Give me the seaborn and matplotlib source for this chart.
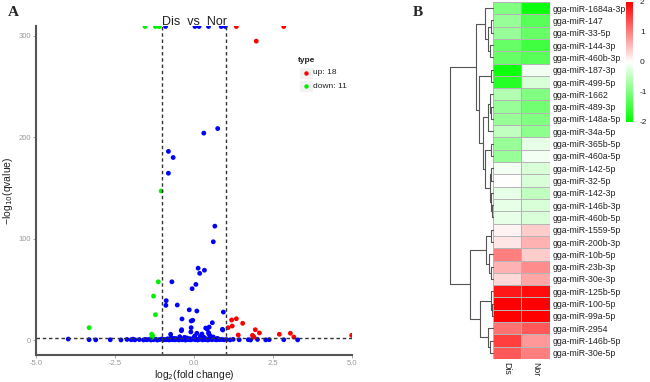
import numpy as np
import pandas as pd
import matplotlib
matplotlib.use("Agg")
import matplotlib.pyplot as plt
import seaborn as sns
from matplotlib.colors import LinearSegmentedColormap

# ---------------- Volcano data (panel A) ----------------
up_x = [1.34, 2.84, 1.97, 1.19, 1.34, 1.08, 1.21, 1.54, 1.40, 1.94, 2.07, 1.85, 1.88, 1.90, 2.70, 3.05, 3.16, 4.99]
up_y = [309, 309, 294.6, 20.0, 21.2, 12.4, 14.0, 16.7, 5.2, 10.4, 7.2, 4.9, 3.5, 3.0, 5.9, 6.9, 3.2, 4.9]

down_x = [-1.55, -1.22, -1.10, -1.04, -1.13, -1.28, -1.22, -3.32, -1.34, -1.31, -1.33]
down_y = [309, 309, 309, 147.0, 57.6, 43.5, 25.2, 12.4, 6.0, 4.5, 3.0]

ns_x = [-0.90, 0.03, 0.16, 0.46, 0.86, 0.99,
        0.31, 0.75, -0.81, -0.66, -0.81, 0.66, 0.61, 0.13, 0.18, 0.33, -0.70, 0.06, -0.06,
        -0.88, -0.89, -0.53, -0.15, 0.09, 0.93, -0.38, -0.09, -0.04, 0.58, 0.48, 0.37, 0.42,
        -0.09, -0.39, -0.40, 0.46, 0.91, -0.74, -0.10, 0.09, 0.25, 0.90, 0.47, 0.51, 0.61,
        -3.98, -3.32, -3.11, -2.65, -2.31, -2.12, -1.99, -1.93, -1.87, -1.73, -1.60, -1.54,
        -1.49, -1.41, -1.36, -1.29, -1.21, -1.16, -1.09, -1.02, -0.97, -0.93, -0.88, -0.83,
        -0.79, -0.73, -0.69, -0.64, -0.61, -0.55, -0.51, -0.47, -0.41, -0.37, -0.33, -0.27,
        -0.24, -0.19, -0.13, -0.11, -0.05, -0.01, 0.04, 0.08, 0.12, 0.17, 0.21, 0.27, 0.29,
        0.35, 0.39, 0.44, 0.49, 0.53, 0.57, 0.63, 0.68, 0.71, 0.77, 0.81, 0.88, 0.95,
        1.03, 1.14, 1.24, 1.43, 1.72, 1.79, 2.01, 2.27, 2.38, 2.84, 3.28,
        -0.72, -0.45, -0.22, 0.02, 0.31, 0.55, 0.74, -0.58, -0.30, 0.20]
ns_y = [309, 309, 309, 309, 309, 309,
        204.0, 208.5, 186.0, 180.0, 164.5, 112.4, 97.0, 71.0, 65.9, 69.0, 57.6, 55.0, 50.8,
        39.0, 34.4, 34.7, 30.0, 28.8, 27.8, 21.0, 19.0, 19.7, 17.3, 13.0, 12.0, 11.0,
        12.4, 10.4, 9.4, 7.5, 10.1, 5.9, 8.2, 6.9, 6.2, 10.8, 6.2, 4.5, 3.2,
        1.2, 0.6, 0.4, 0.5, 0.3, 0.8, 0.5, 1.1, 0.4, 0.7, 0.3, 0.9,
        0.5, 1.0, 0.3, 0.6, 0.9, 0.2, 0.7, 1.3, 0.4, 0.8, 0.5, 1.5,
        0.3, 0.9, 0.6, 1.8, 0.4, 1.1, 0.7, 0.3, 1.4, 0.5, 0.8, 0.2,
        1.0, 0.6, 1.6, 0.4, 0.9, 2.4, 0.5, 1.2, 0.3, 0.8, 1.9, 0.4, 1.1,
        0.6, 1.5, 0.3, 0.9, 2.6, 0.5, 1.3, 0.7, 0.4, 1.0, 0.6, 0.8, 0.5,
        0.7, 0.4, 0.9, 0.5, 0.6, 0.3, 0.8, 0.4, 0.6, 0.5, 0.4,
        2.8, 3.5, 2.2, 4.1, 3.0, 2.5, 1.9, 1.7, 2.9, 3.8]

x_ticks = [-5.0, -2.5, 0.0, 2.5, 5.0]
y_ticks = [0, 100, 200, 300]
fc_cut = [-1, 1]
q_cut = 2.0

# ---------------- Heatmap data (panel B) ----------------
mirnas = ["gga-miR-1684a-3p", "gga-miR-147", "gga-miR-33-5p", "gga-miR-144-3p", "gga-miR-460b-3p",
          "gga-miR-187-3p", "gga-miR-499-5p", "gga-miR-1662", "gga-miR-489-3p", "gga-miR-148a-5p",
          "gga-miR-34a-5p", "gga-miR-365b-5p", "gga-miR-460a-5p", "gga-miR-142-5p", "gga-miR-32-5p",
          "gga-miR-142-3p", "gga-miR-146b-3p", "gga-miR-460b-5p", "gga-miR-1559-5p", "gga-miR-200b-3p",
          "gga-miR-10b-5p", "gga-miR-23b-3p", "gga-miR-30e-3p", "gga-miR-125b-5p", "gga-miR-100-5p",
          "gga-miR-99a-5p", "gga-miR-2954", "gga-miR-146b-5p", "gga-miR-30e-5p"]
dis_vals = [-1.0, -0.8, -0.8, -1.2, -1.2, -1.9, -1.7, -0.6, -0.8, -0.8,
            -0.5, -0.8, -0.8, -0.1, 0.0, -0.2, -0.2, -0.2, 0.1, 0.2,
            1.0, 0.6, 0.3, 1.8, 2.0, 2.0, 1.1, 1.5, 1.3]
nor_vals = [-1.9, -1.3, -1.2, -1.5, -1.3, -0.1, -0.3, -1.0, -1.1, -1.0,
            -0.9, -0.2, -0.1, -0.3, -0.3, -0.5, -0.3, -0.3, 0.4, 0.6,
            0.4, 0.9, 0.7, 1.9, 2.0, 2.0, 1.3, 0.8, 1.0]
samples = ["Dis", "Nor"]
cbar_ticks = [-2, -1, 0, 1, 2]

# row dendrogram: [left, right, height]; leaves are row indices
row_tree = [
    [[0, [[1, 2, 0.05], [3, 4, 0.07], 0.12], 0.19],
     [[5, 6, 0.04],
      [[[7, [8, 9, 0.04], 0.07], 10, 0.10],
       [[11, 12, 0.05], [[13, 14, 0.03], [15, [16, 17, 0.02], 0.04], 0.06], 0.17], 0.22], 0.32], 0.39],
    [[[18, 19, 0.05], [20, [21, 22, 0.04], 0.08], 0.16],
     [[23, [24, 25, 0.02], 0.05], [26, [27, 28, 0.06], 0.10], 0.30], 0.53],
    1.0]

# ---------------- Figure ----------------
sns.set_theme(style="white")
plt.rcParams["font.family"] = ["Liberation Sans", "DejaVu Sans"]
plt.rcParams["axes.unicode_minus"] = False
fig = plt.figure(figsize=(6.5, 3.82), dpi=100)

# Panel A
ax = fig.add_axes([36 / 650, 1 - 355 / 382, 316 / 650, 329 / 382])
vdf = pd.concat([
    pd.DataFrame({"x": ns_x, "y": ns_y, "type": "ns"}),
    pd.DataFrame({"x": up_x, "y": up_y, "type": "up"}),
    pd.DataFrame({"x": down_x, "y": down_y, "type": "down"}),
])
sns.scatterplot(data=vdf, x="x", y="y", hue="type",
                palette={"ns": "#0000ff", "up": "#ff0000", "down": "#00ee00"},
                s=12, linewidth=0, legend=False, ax=ax)
for c in fc_cut:
    ax.axvline(c, color="#333333", lw=1.0, ls=(0, (2.5, 2)))
ax.axhline(q_cut, color="#333333", lw=1.0, ls=(0, (2.5, 2)))
ax.set_xlim(-5, 5)
ax.set_ylim(-14.5, 309.5)
ax.set_xticks(x_ticks)
ax.set_xticklabels([f"{t:.1f}" for t in x_ticks])
ax.set_yticks(y_ticks)
ax.tick_params(axis="both", labelsize=5.5, colors="#999999", length=2, width=0.6,
               direction="out", left=True, bottom=True, pad=1.5)
for s in ["top", "right"]:
    ax.spines[s].set_visible(False)
for s in ["left", "bottom"]:
    ax.spines[s].set_color("#555555")
    ax.spines[s].set_linewidth(1.5)
ax.set_xlabel("log$_2$(fold change)", fontsize=7.5, color="#222222", labelpad=1)
ax.set_ylabel("\u2212log$_{10}$(qvalue)", fontsize=7.5, color="#222222")
ax.yaxis.set_label_coords(-0.068, 0.5)
ax.set_title("Dis  vs  Nor", fontsize=9, color="#222222", pad=1)

# legend
fig.text(298 / 650, 1 - 61 / 382, "type", fontsize=6, fontweight="bold", color="#222222", va="center")
for i, (lab, col) in enumerate([("up: 18", "#ff0000"), ("down: 11", "#00ee00")]):
    yy = 1 - (73 + 13 * i) / 382
    fig.patches.append(plt.Rectangle((300 / 650, yy - 5 / 382), 12 / 650, 10 / 382,
                                     transform=fig.transFigure, color="#f2f2f2", zorder=0))
    fig.lines.append(plt.Line2D([306 / 650], [yy], marker="o", ms=2.2, color=col,
                                transform=fig.transFigure))
    fig.text(313 / 650, yy, lab, fontsize=6, color="#222222", va="center")

fig.text(8 / 650, 1 - 13 / 382, "A", fontsize=11, fontweight="bold", family="Liberation Serif", va="center")
fig.text(413 / 650, 1 - 13 / 382, "B", fontsize=11, fontweight="bold", family="Liberation Serif", va="center")

# Panel B heatmap
hm_bottom = 1 - 359 / 382
hm_height = 357 / 382
hax = fig.add_axes([492.7 / 650, hm_bottom, 57.3 / 650, hm_height])
cax = fig.add_axes([626 / 650, 1 - 122 / 382, 7 / 650, 120 / 382])
hdf = pd.DataFrame({samples[0]: dis_vals, samples[1]: nor_vals}, index=mirnas)
cmap = LinearSegmentedColormap.from_list("gwr", ["#00ff00", "#ffffff", "#ff0000"])
sns.heatmap(hdf, ax=hax, cmap=cmap, vmin=-2, vmax=2, linewidths=0.6, linecolor="#b5b5b5",
            cbar_ax=cax, cbar_kws={"ticks": cbar_ticks})
hax.yaxis.tick_right()
hax.set_yticks(np.arange(len(mirnas)) + 0.5)
hax.set_yticklabels(mirnas, rotation=0, fontsize=6.3, color="#222222")
hax.set_xticklabels(samples, rotation=270, fontsize=6.3, color="#222222")
hax.tick_params(length=0, pad=2)
hax.set_xlabel("")
hax.set_ylabel("")
cax.tick_params(length=0, labelsize=6, colors="#222222", pad=5)
cax.set_yticks(cbar_ticks)
cax.set_yticklabels([str(t) for t in cbar_ticks])
cb = hax.collections[0].colorbar
if cb is not None:
    cb.outline.set_visible(False)
for sp in cax.spines.values():
    sp.set_visible(False)

# dendrogram
dax = fig.add_axes([450 / 650, hm_bottom, 42.7 / 650, hm_height])
dax.set_xlim(1.0, 0.0)
dax.set_ylim(len(mirnas), 0)
dax.axis("off")


def draw(node):
    if isinstance(node, int):
        return node + 0.5, 0.0
    l, r, h = node
    yl, hl = draw(l)
    yr, hr = draw(r)
    kw = dict(color="#555555", lw=0.8, clip_on=False)
    dax.plot([hl, h], [yl, yl], **kw)
    dax.plot([hr, h], [yr, yr], **kw)
    dax.plot([h, h], [yl, yr], **kw)
    return (yl + yr) / 2, h


draw(row_tree)

fig.savefig("out.png", dpi=100)
